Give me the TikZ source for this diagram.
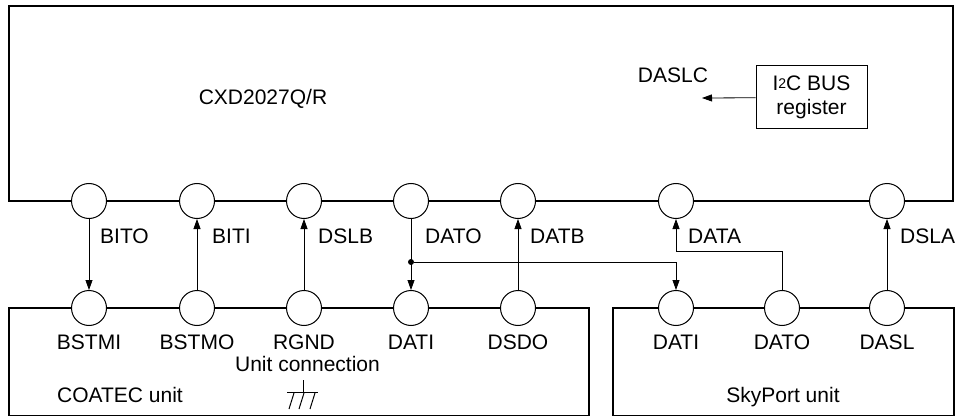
\documentclass[tikz,border=0pt]{standalone}
\usepackage{fontspec}
\setmainfont{Liberation Sans}
\usetikzlibrary{calc,positioning,arrows.meta}
\tikzset{pin/.style={draw,fill=white,circle,minimum size=35pt,inner
sep=0pt,line width=1pt},sig/.style={inner sep=0pt,font=\fontsize{21}{24}\selectfont}}

\begin{document}
\begin{tikzpicture}[x=1pt,y=-1pt,box/.style={draw,line width=1.8pt},wire/.style={line width=0.8pt,-{Triangle[length=10pt,width=7pt]}}]
			\useasboundingbox (0,0) rectangle (959,417);
			% chip and the two units
			\draw[box] (9,6) rectangle (953,201);
			\draw[box] (9,308) rectangle (589,415.5);
			\draw[box] (613,308) rectangle (954,415.5);

			\node[sig,anchor=base] (chip) at (263,104.5) {CXD2027Q/R};
			\node[sig,anchor=base] (daslc) at (673,83) {DASLC};
			\node[draw,line width=1pt,minimum width=111pt,minimum height=63pt,inner sep=0pt,align=center,font=\fontsize{21}{24}\selectfont] (i2c) at (811.5,97.5) {\raisebox{-3pt}{I\raisebox{2.5pt}{\fontsize{14}{14}\selectfont 2}C BUS}\\\raisebox{-3pt}{register}};
			\coordinate (daslcin) at (702,98);
			\draw[wire] (i2c) -- (daslcin);

			% chip pins
			\node[pin] (bito) at (89,201) {};
			\node[pin] (biti) at (197,201) {};
			\node[pin] (dslb) at (304,201) {};
			\node[pin] (dato) at (411,201) {};
			\node[pin] (datb) at (518,201) {};
			\node[pin] (data) at (676,201) {};
			\node[pin] (dsla) at (887,201) {};

			\node[sig,anchor=base west] (lbito) at ($(bito)+(11,42.5)$) {BITO};
			\node[sig,anchor=base west] (lbiti) at ($(biti)+(15,42.5)$) {BITI};
			\node[sig,anchor=base west] (ldslb) at ($(dslb)+(14,42.5)$) {DSLB};
			\node[sig,anchor=base west] (ldato) at ($(dato)+(14,42.5)$) {DATO};
			\node[sig,anchor=base west] (ldatb) at ($(datb)+(12,42.5)$) {DATB};
			\node[sig,anchor=base west] (ldata) at ($(data)+(12,42.5)$) {DATA};
			\node[sig,anchor=base west] (ldsla) at ($(dsla)+(13,42.5)$) {DSLA};

			% COATEC unit pins
			\node[pin] (bstmi) at (89,308) {};
			\node[pin] (bstmo) at (197,308) {};
			\node[pin] (rgnd) at (304,308) {};
			\node[pin] (dati) at (411,308) {};
			\node[pin] (dsdo) at (518,308) {};

			\node[sig,anchor=base] (lbstmi) at ($(bstmi)+(0,41.5)$) {BSTMI};
			\node[sig,anchor=base] (lbstmo) at ($(bstmo)+(0,41.5)$) {BSTMO};
			\node[sig,anchor=base] (lrgnd) at ($(rgnd)+(0,41.5)$) {RGND};
			\node[sig,anchor=base] (ldati) at ($(dati)+(0,41.5)$) {DATI};
			\node[sig,anchor=base] (ldsdo) at ($(dsdo)+(0,41.5)$) {DSDO};
			\node[sig,anchor=base] (unitcon) at (307.5,371) {Unit connection};
			\node[sig,anchor=base west] (coatec) at (57,402.5) {COATEC unit};

			% SkyPort unit pins
			\node[pin] (sdati) at (676,308) {};
			\node[pin] (sdato) at (782,308) {};
			\node[pin] (sdasl) at (887,308) {};

			\node[sig,anchor=base] (lsdati) at ($(sdati)+(0,41.5)$) {DATI};
			\node[sig,anchor=base] (lsdato) at ($(sdato)+(0,41.5)$) {DATO};
			\node[sig,anchor=base] (lsdasl) at ($(sdasl)+(0,41.5)$) {DASL};
			\node[sig,anchor=base] (skyport) at (783,402.5) {SkyPort unit};

			% ground
			\coordinate (gnd) at (303,380);
			\draw[line width=0.8pt] (gnd) -- ++(0,12);
			\draw[line width=1pt] ($(gnd)+(-16,12)$) -- ++(31,0);
			\foreach \dx in {-9,1,12}
				\draw[line width=1pt] ($(gnd)+(\dx,13)$) -- ++(-5,16);

			% connections
			\draw[wire] (bito) -- (bstmi);
			\draw[wire] (bstmo) -- (biti);
			\draw[wire] (rgnd) -- (dslb);
			\draw[wire] (dato) -- (dati);
			\draw[wire] (dsdo) -- (datb);
			\draw[wire] (sdasl) -- (dsla);
			\node[fill,circle,inner sep=0pt,minimum size=6pt] (jn) at ($(dato)+(0,61)$) {};
			\draw[wire] (jn) -| (sdati);
			\coordinate (bend) at ($(data)+(0,50)$);
			\draw[wire] (sdato) |- (bend) -- (data);
		\end{tikzpicture}
\end{document}
